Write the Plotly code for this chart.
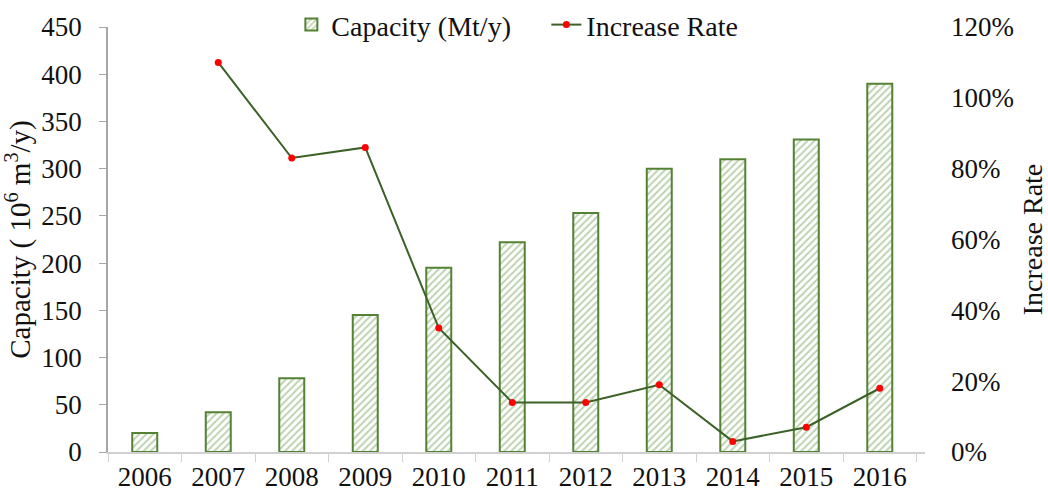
import plotly.graph_objects as go

# Annual capacity and year-on-year increase rate
years = ["2006", "2007", "2008", "2009", "2010", "2011", "2012", "2013", "2014", "2015", "2016"]
capacity = [20, 42, 78, 145, 195, 222, 253, 300, 310, 331, 390]
rate_years = ["2007", "2008", "2009", "2010", "2011", "2012", "2013", "2014", "2015", "2016"]
increase_rate = [1.10, 0.83, 0.86, 0.35, 0.14, 0.14, 0.19, 0.03, 0.07, 0.18]

cap_ticks = [0, 50, 100, 150, 200, 250, 300, 350, 400, 450]
rate_ticks = [0, 0.2, 0.4, 0.6, 0.8, 1.0, 1.2]
rate_tick_text = ["0%", "20%", "40%", "60%", "80%", "100%", "120%"]

FONT = "Liberation Serif, serif"
SIZE = 27
GREEN = "#548235"
LINE_GREEN = "#3b6126"

fig = go.Figure()

fig.add_trace(go.Bar(
    x=years, y=capacity, name="Capacity (Mt/y)",
    width=0.34,
    marker=dict(
        color="white",
        line=dict(color=GREEN, width=2),
        pattern=dict(shape="/", fgcolor="#79a55e", bgcolor="white", size=5, solidity=0.4),
    ),
    yaxis="y",
))

fig.add_trace(go.Scatter(
    x=rate_years, y=increase_rate, name="Increase Rate",
    mode="lines+markers",
    line=dict(color=LINE_GREEN, width=2),
    marker=dict(color="#ff0000", size=7),
    yaxis="y2",
))

fig.update_layout(
    width=1048, height=498,
    margin=dict(l=108, r=123, t=27, b=46, autoexpand=False),
    paper_bgcolor="white", plot_bgcolor="white",
    font=dict(family=FONT, size=SIZE, color="#111111"),
    showlegend=True,
    legend=dict(orientation="h", xref="container", yref="container",
                x=0.278, xanchor="left", y=0.95, yanchor="middle",
                font=dict(family=FONT, size=28), bgcolor="rgba(0,0,0,0)",
                itemwidth=30, entrywidth=210, tracegroupgap=0),
    xaxis=dict(
        type="category", tickson="boundaries", ticks="outside", ticklen=8,
        tickcolor="#d0d0d0", showline=True, linecolor="#d0d0d0", linewidth=1.5,
        showgrid=False, automargin=False, tickfont=dict(family=FONT, size=SIZE),
    ),
    yaxis=dict(
        range=[0, 450], tickvals=cap_ticks, showgrid=False, zeroline=False,
        showline=True, linecolor="#a6a6a6", linewidth=1.5,
        ticks="outside", ticklen=7, tickcolor="#a6a6a6", ticklabelstandoff=12,
        automargin=False, tickfont=dict(family=FONT, size=SIZE),
        title=dict(text="Capacity ( 10<sup>6</sup> m<sup>3</sup>/y)", font=dict(family=FONT, size=29), standoff=2),
    ),
    yaxis2=dict(
        range=[0, 1.2], tickvals=rate_ticks, ticktext=rate_tick_text,
        overlaying="y", side="right", showgrid=False, zeroline=False,
        showline=False, ticks="", ticklabelstandoff=25, automargin=False,
        tickfont=dict(family=FONT, size=SIZE),
        title=dict(text="Increase Rate", font=dict(family=FONT, size=28), standoff=14),
    ),
)

fig.write_html("out.html")
